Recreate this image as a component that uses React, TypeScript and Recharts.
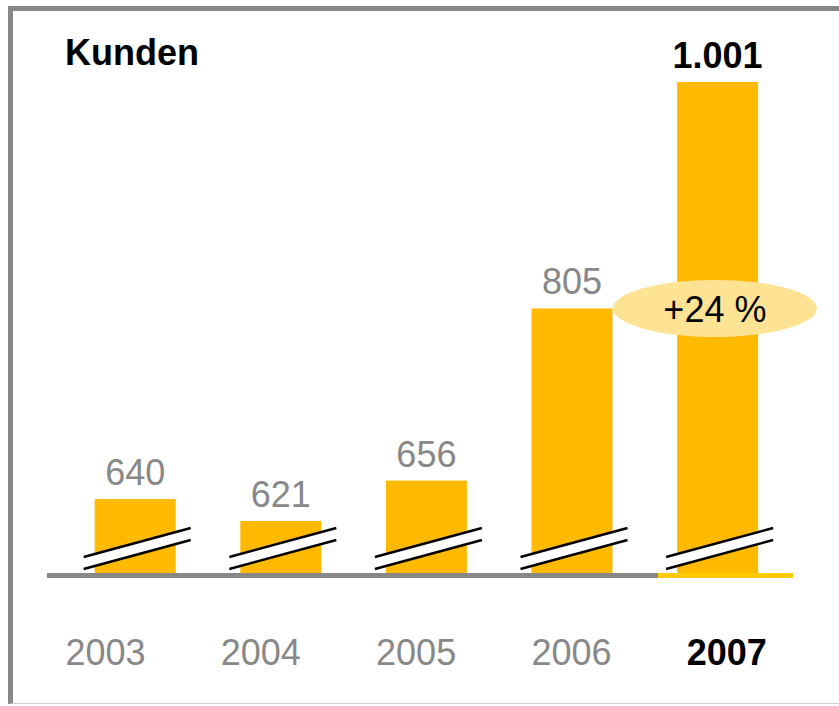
import { BarChart, Bar, XAxis, YAxis, LabelList, ReferenceDot } from "recharts";

const years = ["2003", "2004", "2005", "2006", "2007"];
const customers = [640, 621, 656, 805, 1001];
const highlightYear = "2007";
const growthLabel = "+24 %";
const growthAnchorValue = 805;
const title = "Kunden";

const data = years.map((year, i) => ({ year, value: customers[i] }));

const FONT = "'Liberation Sans', Arial, Helvetica, sans-serif";
const BAR = "#FFBA00";
const GREY = "#888888";

const fmt = (v: number) =>
  v >= 1000 ? `${Math.floor(v / 1000)}.${String(v % 1000).padStart(3, "0")}` : String(v);

// bar with the axis-break marks and its share of the base line
const BrokenBar = (props: any) => {
  const { x, y, width, height, payload } = props;
  const yb = Math.round(y + height);
  const hl = payload.year === highlightYear;
  const lx = x - 11;
  const rx = x + width + 15;
  return (
    <g>
      <rect x={x} y={y} width={width} height={yb - y} fill={BAR} />
      <polygon
        points={`${lx},${yb - 16} ${rx},${yb - 45} ${rx},${yb - 33} ${lx},${yb - 4}`}
        fill="#fff"
      />
      <line x1={lx} y1={yb - 16} x2={rx} y2={yb - 45} stroke="#000" strokeWidth={2.5} />
      <line x1={lx} y1={yb - 4} x2={rx} y2={yb - 33} stroke="#000" strokeWidth={2.5} />
      {hl ? (
        <rect x={Math.round(x - 19)} y={yb} width={Math.round(width + 54)} height={5} fill="#FFCC00" />
      ) : (
        <rect x={Math.round(x - 48)} y={yb} width={Math.round(width + 94)} height={5} fill={GREY} />
      )}
    </g>
  );
};

const ValueLabel = (props: any) => {
  const { x, y, width, value, index } = props;
  const hl = years[index] === highlightYear;
  return (
    <text
      x={x + width / 2}
      y={y - 14}
      textAnchor="middle"
      fontFamily={FONT}
      fontSize={36}
      fontWeight={hl ? 700 : 400}
      fill={hl ? "#000" : GREY}
    >
      {fmt(value)}
    </text>
  );
};

const YearTick = (props: any) => {
  const { x, y, payload } = props;
  const hl = payload.value === highlightYear;
  return (
    <text
      x={x}
      y={y + 54}
      textAnchor="middle"
      fontFamily={FONT}
      fontSize={36}
      fontWeight={hl ? 700 : 400}
      fill={hl ? "#000" : GREY}
    >
      {payload.value}
    </text>
  );
};

const GrowthBubble = (props: any) => {
  const { cx, cy } = props;
  return (
    <g>
      <ellipse cx={cx - 3} cy={cy} rx={102} ry={28.5} fill="#FFE394" />
      <text x={cx - 3} y={cy + 14} textAnchor="middle" fontFamily={FONT} fontSize={36} fill="#000">
        {growthLabel}
      </text>
    </g>
  );
};

export default function App() {
  return (
    <div style={{ position: "relative", width: 839, height: 706, overflow: "hidden", background: "#fff" }}>
      <style>{`body{margin:0}`}</style>
      <div
        style={{
          position: "absolute",
          left: 8,
          top: 6,
          width: 860,
          height: 698,
          boxSizing: "border-box",
          borderTop: `5px solid ${GREY}`,
          borderLeft: `5px solid ${GREY}`,
          borderBottom: "1.5px solid #cccccc",
        }}
      />
      <svg width={839} height={706} style={{ position: "absolute", left: 0, top: 0 }}>
        <text x={65} y={65} fontFamily={FONT} fontSize={36} fontWeight={700} fill="#000">
          {title}
        </text>
      </svg>
      <div style={{ position: "absolute", left: 0, top: 0 }}>
        <BarChart
          width={839}
          height={706}
          data={data}
          margin={{ top: 82, right: 46, bottom: 103, left: 47 }}
        >
          <XAxis dataKey="year" hide padding={{ left: 15.7, right: 2.3 }} />
          <XAxis
            xAxisId="lbl"
            dataKey="year"
            height={30}
            axisLine={false}
            tickLine={false}
            interval={0}
            padding={{ left: -19.15, right: -11.4 }}
            tick={<YearTick />}
          />
          <YAxis hide domain={[576, 1001]} />
          <Bar dataKey="value" barSize={81} shape={<BrokenBar />} isAnimationActive={false}>
            <LabelList dataKey="value" content={<ValueLabel />} />
          </Bar>
          <ReferenceDot
            x={highlightYear}
            y={growthAnchorValue}
            r={0}
            ifOverflow="visible"
            shape={<GrowthBubble />}
          />
        </BarChart>
      </div>
    </div>
  );
}
